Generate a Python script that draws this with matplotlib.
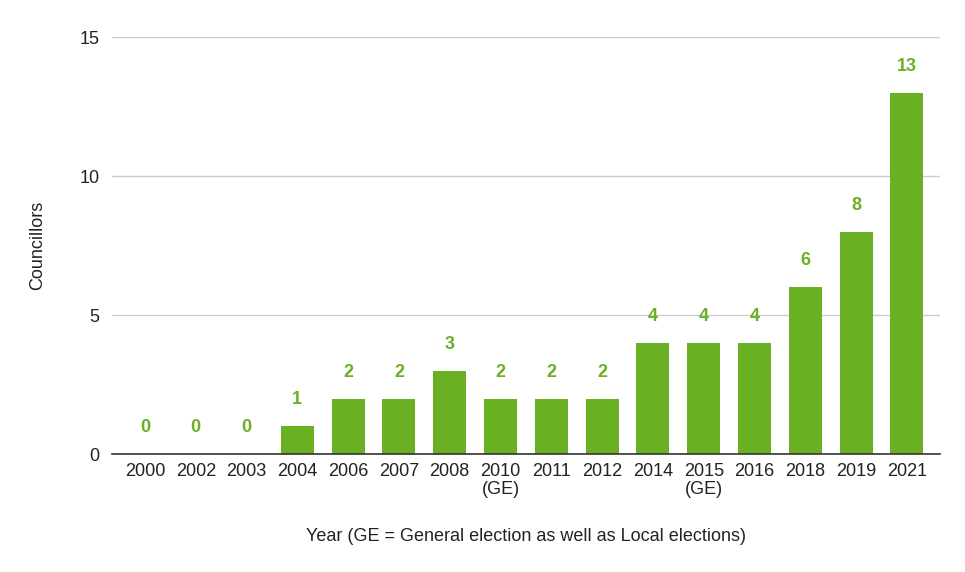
import matplotlib
matplotlib.use("Agg")
import matplotlib.pyplot as plt

categories = ["2000", "2002", "2003", "2004", "2006", "2007", "2008", "2010\n(GE)",
              "2011", "2012", "2014", "2015\n(GE)", "2016", "2018", "2019", "2021"]
values = [0, 0, 0, 1, 2, 2, 3, 2, 2, 2, 4, 4, 4, 6, 8, 13]
yticks = [0, 5, 10, 15]

plt.rcParams['font.family'] = ['Liberation Sans', 'DejaVu Sans']
green = '#6ab023'
fs = 13

fig = plt.figure(figsize=(9.65, 5.72), dpi=100)
ax = fig.add_axes([0.116, 0.206, 0.858, 0.729])
x = list(range(len(categories)))
ax.bar(x, values, width=0.65, color=green, zorder=3)
for xi, v in zip(x, values):
    ax.annotate(str(v), (xi, v), xytext=(0, 13), textcoords='offset points',
                ha='center', va='bottom', color=green, fontsize=fs, fontweight='bold')
ax.set_xlim(-0.65, 15.65)
ax.set_ylim(0, 15)
ax.set_yticks(yticks)
ax.set_xticks(x)
ax.set_xticklabels(categories, fontsize=fs, color='#222222', linespacing=1.15)
ax.tick_params(axis='y', labelsize=fs, labelcolor='#222222', length=0, pad=9)
ax.tick_params(axis='x', length=0, pad=6)
for s in ['top', 'right', 'left']:
    ax.spines[s].set_visible(False)
ax.spines['bottom'].set_color('#333333')
ax.spines['bottom'].set_linewidth(1.2)
ax.spines['bottom'].set_zorder(4)
ax.yaxis.grid(True, color='#cccccc', linewidth=1, zorder=0)
ax.set_axisbelow(True)
ax.set_ylabel('Councillors', fontsize=fs, color='#222222', labelpad=24)
ax.set_xlabel('Year (GE = General election as well as Local elections)', fontsize=fs,
              color='#222222', labelpad=21)
fig.savefig('out.png', dpi=100)
